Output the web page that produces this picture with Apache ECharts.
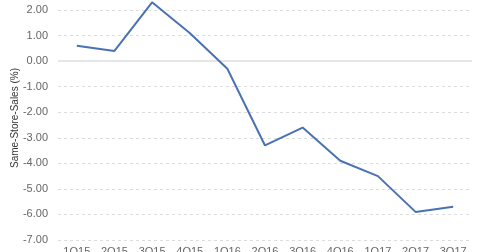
<!DOCTYPE html>
<html><head><meta charset="utf-8">
<script src="https://cdn.jsdelivr.net/npm/echarts@6/dist/echarts.min.js"></script>
<style>html,body{margin:0;padding:0;background:#fff}#c{width:480px;height:252px}</style>
</head><body><div id="c"></div>
<script>
var categories = ['1Q15','2Q15','3Q15','4Q15','1Q16','2Q16','3Q16','4Q16','1Q17','2Q17','3Q17'];
var sssValues = [0.6, 0.4, 2.3, 1.1, -0.3, -3.3, -2.6, -3.9, -4.5, -5.9, -5.7];
var yAxisName = 'Same-Store-Sales (%)';
var chart = echarts.init(document.getElementById('c'));
chart.setOption({
  animation: false,
  grid: {left: 58, right: 8, top: 10, bottom: 12, outerBoundsMode: 'none', containLabel: false},
  xAxis: {
    type: 'category', data: categories, boundaryGap: true,
    axisLine: {show: false}, axisTick: {show: false},
    axisLabel: {color: '#666', fontSize: 11, margin: 6, fontFamily: 'Liberation Sans, Arial, sans-serif', interval: 0}
  },
  yAxis: {
    type: 'value', min: -7, max: 2, interval: 1,
    name: yAxisName, nameLocation: 'middle', nameGap: 38, nameRotate: 90, nameMoveOverlap: false,
    nameTextStyle: {color: '#333', fontSize: 10, fontFamily: 'Liberation Sans, Arial, sans-serif', padding: [0,0,0,14]},
    axisLine: {show: false}, axisTick: {show: false},
    axisLabel: {color: '#666', fontSize: 11, margin: 10, fontFamily: 'Liberation Sans, Arial, sans-serif', formatter: function(v){return v.toFixed(2);}},
    splitLine: {show: true, lineStyle: {color: '#dcdcdc', type: [3,3], width: 1}}
  },
  series: [{
    type: 'line', data: [], z: 1, silent: true,
    markLine: {silent: true, symbol: 'none', label: {show: false}, animation: false,
      lineStyle: {color: '#e6e6e6', type: 'solid', width: 2},
      data: [{yAxis: 0}]}
  }, {
    type: 'line', data: sssValues, symbol: 'none', clip: false, z: 5,
    lineStyle: {color: '#4a72b3', width: 2}
  }]
});
</script></body></html>
